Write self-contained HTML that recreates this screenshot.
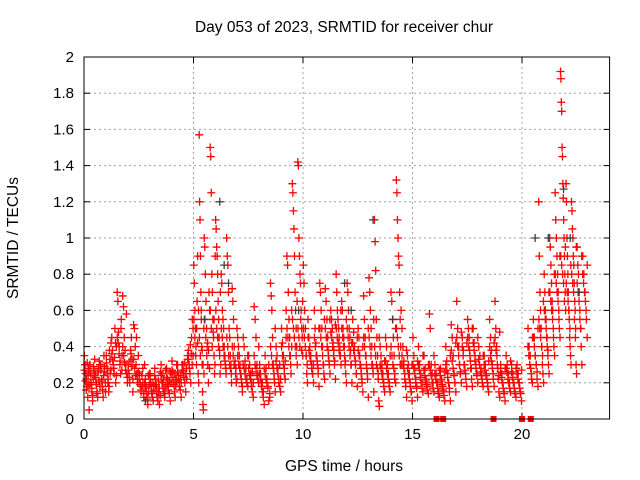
<!DOCTYPE html>
<html><head><meta charset="utf-8"><style>
body{margin:0;background:#fff;}
svg{display:block;font-family:"Liberation Sans",sans-serif;}
</style></head><body>
<svg id="chart" width="640" height="480" viewBox="0 0 640 480">
<rect width="640" height="480" fill="#fff"/>
<text x="344" y="32" text-anchor="middle" font-size="15.5">Day 053 of 2023, SRMTID for receiver chur</text>
<text x="344" y="471" text-anchor="middle" font-size="15.5">GPS time / hours</text>
<text transform="translate(18,238) rotate(-90)" text-anchor="middle" font-size="15.5">SRMTID / TECUs</text>
<g id="grid"></g>
<g id="ticks"></g>
<g id="marks"></g>
<rect x="84" y="57" width="525.6" height="362" fill="none" stroke="#000" stroke-width="1"/>
</svg>
<script>
const xTicks=[0,5,10,15,20];
const yTicks=[0,0.2,0.4,0.6,0.8,1,1.2,1.4,1.6,1.8,2];
const yTickLabels=["0","0.2","0.4","0.6","0.8","1","1.2","1.4","1.6","1.8","2"];
const binWidth=0.25;
const binStarts=[0,0.25,0.5,0.75,1,1.25,1.5,1.75,2,2.25,2.5,2.75,3,3.25,3.5,3.75,4,4.25,4.5,4.75,5,5.25,5.5,5.75,6,6.25,6.5,6.75,7,7.25,7.5,7.75,8,8.25,8.5,8.75,9,9.25,9.5,9.75,10,10.25,10.5,10.75,11,11.25,11.5,11.75,12,12.25,12.5,12.75,13,13.25,13.5,13.75,14,14.25,14.5,14.75,15,15.25,15.5,15.75,16,16.25,16.5,16.75,17,17.25,17.5,17.75,18,18.25,18.5,18.75,19,19.25,19.5,19.75,20,20.25,20.5,20.75,21,21.25,21.5,21.75,22,22.25,22.5,22.75];
const binValues=[
[.35,.3,.25,.22,.18,.12,.28,.05],[.3,.25,.2,.15,.1,.22,.27,.33],[.25,.2,.15,.12,.28,.32,.18],[.3,.22,.18,.12,.35,.26,.15],
[.35,.28,.2,.15,.38,.25,.42],[.45,.38,.3,.25,.5,.2,.4],[.7,.65,.48,.4,.3,.25,.55,.35],[.68,.62,.45,.38,.3,.25,.2],
[.3,.25,.2,.38,.45,.33,.15],[.52,.5,.4,.3,.25,.2,.35],[.25,.2,.15,.18,.28,.12],[.3,.22,.18,.12,.08,.15,.25],
[.25,.2,.15,.12,.1,.18,.28],[.22,.18,.12,.1,.15,.08,.26],[.3,.25,.2,.15,.12,.18],[.28,.22,.18,.14,.1,.25],
[.32,.26,.2,.15,.12,.22,.3],[.3,.24,.2,.16,.12,.27],[.3,.25,.2,.15,.28,.35],[.38,.3,.25,.2,.45,.55,.35],
[.85,.75,.6,.5,.4,.3,.65,.9,.25,.2],[1.57,1.2,1.1,.9,.7,.55,.4,.3,.15,.08,.05,.5,1.0],[.95,.8,.65,.5,.4,.3,.2,.7,.6],[1.5,1.45,1.25,.8,.7,.55,.45,.35,.25,.9],
[1.1,1.05,.95,.9,.8,.65,.55,.45,.35,.25,.3],[.8,.75,.6,.55,.5,.4,.35,.3,.25],[1.0,.9,.85,.7,.5,.45,.35,.3,.2],[.72,.65,.55,.4,.3,.25,.2,.5],
[.45,.4,.35,.3,.25,.2,.15],[.45,.4,.32,.28,.22,.18],[.35,.3,.25,.2,.15,.12],[.62,.55,.45,.3,.25,.2],
[.3,.25,.2,.15,.12,.08],[.35,.28,.22,.18,.1,.14],[.75,.68,.6,.45,.3,.25,.2,.15],[.4,.35,.28,.22,.18,.15],
[.5,.42,.35,.28,.22,.6],[.9,.85,.7,.55,.45,.35,.25,.4],[1.3,1.25,1.15,1.05,.9,.7,.6,.5,.4,.3],[1.42,1.4,1.0,.9,.8,.75,.6,.5,.45,.35],
[.85,.75,.6,.5,.35,.25,.2,.45],[.45,.4,.35,.3,.25,.2],[.6,.5,.42,.35,.3,.25,.18],[.75,.7,.6,.5,.4,.3,.25,.22],
[.72,.65,.55,.45,.35,.3,.25],[.6,.55,.5,.42,.38,.32,.22],[.8,.7,.6,.55,.5,.45,.4,.35,.3],[.65,.6,.5,.45,.4,.3,.25,.2],
[.75,.7,.6,.5,.45,.38,.3,.2],[.55,.48,.4,.32,.25,.18],[.5,.45,.35,.3,.25,.2,.15],[.68,.55,.45,.35,.28,.22,.12],
[.78,.7,.6,.5,.4,.3,.25,.15],[1.1,.98,.82,.55,.45,.35,.25,.1,.07],[.4,.35,.3,.25,.2,.15],[.45,.4,.3,.25,.2,.15],
[.7,.65,.55,.45,.35,.25,.2],[1.32,1.25,1.1,1.0,.9,.85,.7,.55,.4,.3],[.5,.4,.32,.25,.18,.12],[.35,.3,.25,.2,.15,.1],
[.45,.35,.28,.22,.18,.12],[.4,.3,.25,.2,.15],[.35,.28,.22,.18,.14],[.58,.5,.3,.25,.2,.15],
[.3,.25,.2,.15,.12],[.28,.22,.18,.15,.1],[.4,.32,.25,.2,.15,.1],[.52,.45,.35,.25,.2,.15],
[.65,.5,.4,.3,.25,.2],[.45,.38,.3,.25,.18],[.55,.5,.45,.35,.28,.22,.18],[.5,.42,.35,.3,.25,.2],
[.4,.35,.28,.22,.18],[.35,.3,.25,.2,.15],[.55,.45,.38,.3,.25,.18],[.65,.5,.4,.3,.22,.15,.12],
[.3,.25,.2,.15,.1],[.35,.3,.25,.2,.15],[.3,.25,.2,.15,.12],[.3,.25,.2,.15,.1],
[],[.5,.4,.35,.25,.2],[.55,.45,.35,.3,.22,.18],[1.2,.9,.7,.6,.5,.4,.3,.25,.2],
[.8,.7,.6,.55,.45,.4,.35,.3,.25],[1.0,.95,.85,.75,.65,.6,.5,.4,.35],[1.25,1.1,1.0,.9,.8,.7,.6,.5,.45],[1.92,1.88,1.75,1.7,1.5,1.45,1.3,1.22,1.1,1.0,.9,.8,.7,.6],
[1.3,1.2,1.0,.9,.8,.7,.6,.55,.45,.4,.35,.3],[1.2,1.15,1.05,1.0,.9,.85,.75,.65,.6,.5,.3,.25],[.95,.85,.8,.7,.6,.5,.4,.3],[.9,.8,.7,.6,.45]
];
const binValuesExtra=[
[.27,.21,.16,.31,.24,.19],[.26,.2,.17,.13,.29,.24],[.23,.19,.14,.26,.21,.3],[.27,.21,.16,.24,.29,.2],
[.31,.25,.22,.18,.33,.27],[.36,.32,.28,.34,.42,.24],[.45,.42,.36,.32,.5,.27],[.4,.35,.31,.27,.58,.23],
[.27,.23,.32,.36,.29,.22],[.33,.28,.24,.45,.22,.26],[.22,.19,.16,.24,.2,.14],[.2,.17,.14,.11,.24,.19],
[.22,.18,.14,.2,.16,.24],[.19,.15,.12,.21,.17,.13],[.24,.2,.17,.22,.14,.27],[.23,.19,.16,.21,.26,.2],
[.27,.23,.19,.25,.18,.21],[.26,.22,.18,.24,.2,.3],[.27,.23,.31,.25,.22,.33],[.33,.28,.41,.36,.3,.5],
[.55,.45,.35,.5,.42,.6],[.45,.35,.6,.38,.3,.25],[.55,.45,.35,.42,.38,.28],[.6,.5,.4,.48,.55,.3],
[.6,.5,.45,.4,.38,.7],[.5,.45,.4,.35,.32,.28],[.45,.4,.35,.3,.28,.25],[.4,.35,.3,.32,.28,.22],
[.35,.3,.28,.25,.22,.18],[.3,.28,.25,.22,.2,.35],[.28,.24,.22,.18,.26,.2],[.35,.3,.28,.24,.22,.4],
[.25,.22,.18,.2,.15,.28],[.25,.22,.2,.17,.3,.12],[.4,.35,.3,.28,.22,.5],[.32,.28,.25,.2,.3,.22],
[.4,.35,.3,.25,.32,.45],[.5,.45,.4,.35,.3,.6],[.55,.5,.45,.4,.35,.65],[.5,.45,.4,.55,.38,.65],
[.5,.45,.4,.35,.3,.55],[.38,.35,.32,.28,.25,.3],[.45,.4,.35,.32,.28,.5],[.5,.45,.4,.35,.3,.55],
[.5,.45,.4,.38,.32,.55],[.48,.45,.4,.35,.3,.52],[.5,.45,.42,.38,.35,.6],[.5,.45,.4,.35,.32,.55],
[.5,.45,.4,.35,.3,.42],[.42,.38,.35,.3,.25,.45],[.38,.35,.3,.28,.22,.4],[.45,.4,.35,.3,.25,.5],
[.45,.4,.35,.3,.28,.55],[.4,.35,.3,.28,.22,.45],[.3,.28,.25,.22,.18,.32],[.32,.28,.25,.22,.18,.35],
[.4,.35,.3,.28,.22,.5],[.5,.45,.4,.35,.3,.6],[.35,.3,.28,.22,.2,.38],[.28,.25,.22,.18,.15,.3],
[.3,.28,.25,.2,.17,.32],[.3,.27,.23,.2,.17,.35],[.27,.24,.21,.19,.16,.3],[.3,.27,.24,.2,.17,.35],
[.25,.22,.2,.17,.14,.27],[.24,.21,.19,.16,.13,.26],[.3,.27,.23,.2,.17,.35],[.38,.32,.28,.24,.2,.42],
[.45,.4,.35,.3,.26,.48],[.4,.35,.3,.27,.22,.42],[.45,.4,.38,.32,.28,.5],[.42,.38,.32,.28,.24,.45],
[.33,.3,.26,.24,.2,.35],[.3,.27,.24,.22,.18,.32],[.4,.35,.32,.28,.22,.42],[.45,.38,.35,.28,.24,.48],
[.26,.23,.2,.17,.14,.28],[.28,.26,.22,.2,.17,.32],[.26,.23,.2,.17,.14,.28],[.25,.22,.2,.17,.14,.27],
[],[.4,.35,.3,.28,.22,.45],[.45,.4,.35,.3,.26,.5],[.55,.5,.45,.4,.35,.65],
[.6,.55,.5,.45,.38,.7],[.7,.65,.6,.55,.45,.8],[.8,.75,.7,.65,.55,.9],[.9,.85,.8,.75,.65,.95],
[.75,.7,.65,.6,.5,.85],[.8,.75,.7,.55,.45,.95],[.75,.7,.65,.55,.5,.9],[.8,.75,.7,.65,.55,.85]
];
const blackTimes=[5.5,6.2,6.4,6.6,11.9,12.2,13.2,20.6,21.2,21.9,22.2,22.6,2.8,9.8,14.1];
const blackValues=[.55,1.2,.85,.75,.75,.6,1.1,1.0,1.0,1.27,1.0,.7,.1,.6,.55];
const gapTimes=[16.1,16.4,18.7,20.0,20.4];
const gapValues=[0,0,0,0,0];

const NS="http://www.w3.org/2000/svg";
const X0=84,XW=525.6,XMAX=24,Y0=419,YH=362,YMAX=2;
function sx(t){return X0+t/XMAX*XW;}
function sy(v){return Y0-v/YMAX*YH;}
const grid=document.getElementById('grid'),ticks=document.getElementById('ticks'),marks=document.getElementById('marks');
function mk(tag,attrs,parent){const e=document.createElementNS(NS,tag);for(const k in attrs)e.setAttribute(k,attrs[k]);parent.appendChild(e);return e;}
yTicks.forEach((v,i)=>{
  const y=sy(v);
  if(i>0&&i<yTicks.length-1){const g=mk('line',{x1:X0,x2:X0+XW,y1:y,y2:y,stroke:'#a0a0a0','stroke-dasharray':'2,3'},grid);
  
  }
  mk('line',{x1:X0,x2:X0+6,y1:y,y2:y,stroke:'#000'},ticks);
  mk('line',{x1:X0+XW-6,x2:X0+XW,y1:y,y2:y,stroke:'#000'},ticks);
  const t=mk('text',{x:X0-10,y:y+5,'text-anchor':'end','font-size':'15'},ticks);
  t.textContent=yTickLabels[i];
  
  
});
xTicks.forEach(v=>{
  const x=sx(v);
  if(v>0){const g=mk('line',{x1:x,x2:x,y1:sy(YMAX),y2:Y0,stroke:'#a0a0a0','stroke-dasharray':'2,3'},grid);
  
  }
  mk('line',{x1:x,x2:x,y1:Y0,y2:Y0-6,stroke:'#000'},ticks);
  mk('line',{x1:x,x2:x,y1:sy(YMAX),y2:sy(YMAX)+6,stroke:'#000'},ticks);
  const t=mk('text',{x:x,y:Y0+20,'text-anchor':'middle','font-size':'15'},ticks);
  t.textContent=String(v);
  
  
});
function cross(t,v,color,name){
  const x=sx(t),y=sy(v);
  const p=mk('path',{d:`M${x-4},${y}H${x+4}M${x},${y-4}V${y+4}`,stroke:color,'stroke-width':'1.3',fill:'none'},marks);
  
  
}
function drawBins(values){
  binStarts.forEach((b,i)=>{
    const vals=values[i]||[];
    vals.forEach((v,j)=>{cross(b+(j+0.5)*binWidth/vals.length,v,'#ff0000','srmtid-point');});
  });
}
drawBins(binValues);
drawBins(binValuesExtra);
blackTimes.forEach((t,i)=>cross(t,blackValues[i],'#404040','secondary-point'));
gapTimes.forEach((t,i)=>{
  const r=mk('rect',{x:sx(t)-3,y:sy(gapValues[i])-3,width:6,height:6,fill:'#ff0000'},marks);
  
  
});
</script>
</body></html>
